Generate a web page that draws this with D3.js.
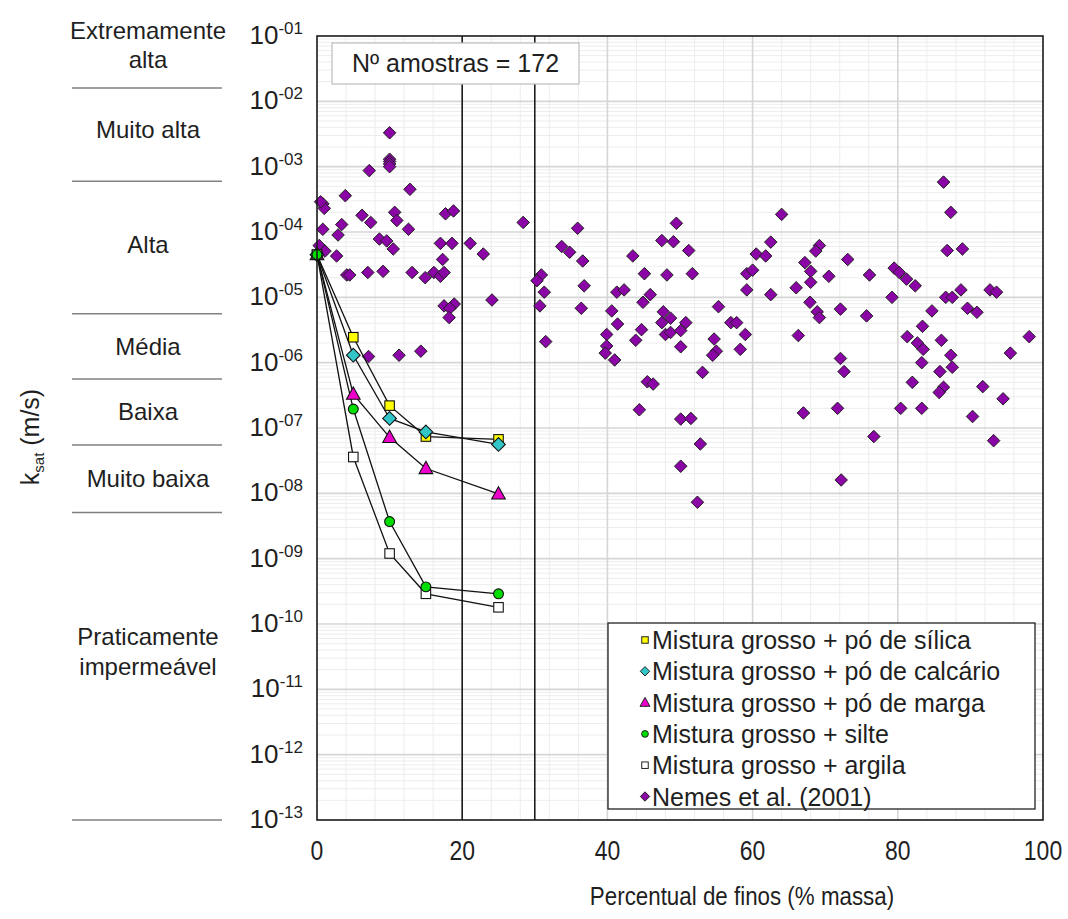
<!DOCTYPE html>
<html>
<head>
<meta charset="utf-8">
<script src="https://cdn.jsdelivr.net/npm/d3@7"></script>
<style>
  body { margin: 0; background: #fff; }
  svg { display: block; }
  text { font-family: "Liberation Sans", Arial, Helvetica, sans-serif; fill: #1f1f1f; }
</style>
</head>
<body>
<svg id="chart" width="1068" height="919"></svg>
<script>
// ---- data -------------------------------------------------------------
// fines content (% mass) of the laboratory mixtures
const fines = [0, 5, 10, 15, 25];

// saturated hydraulic conductivity (m/s) of each mixture series
const silica   = [4.5e-5, 2.45e-6, 2.2e-7, 7.4e-8, 6.7e-8];
const calcario = [4.5e-5, 1.3e-6, 1.4e-7, 8.7e-8, 5.6e-8];
const marga    = [4.5e-5, 3.3e-7, 7.2e-8, 2.4e-8, 9.8e-9];
const silte    = [4.5e-5, 1.95e-7, 3.7e-9, 3.7e-10, 2.9e-10];
const argila   = [4.5e-5, 3.6e-8, 1.2e-9, 2.9e-10, 1.8e-10];

const seriesNames = [
  "Mistura grosso + pó de sílica",
  "Mistura grosso + pó de calcário",
  "Mistura grosso + pó de marga",
  "Mistura grosso + silte",
  "Mistura grosso + argila",
  "Nemes et al. (2001)"
];

// Nemes et al. (2001) database: fines (%) and ksat (m/s)
const nemesFines = [
  10.0, 10.0, 10.0, 10.0, 10.0, 7.2, 12.8, 0.8, 1.0, 0.5, 3.9, 6.2, 7.4, 10.7, 11.0, 12.6,
  0.8, 3.4, 2.9, 0.3, 1.1, 2.7, 8.6, 9.6, 10.5, 4.1, 4.5, 7.0, 9.1, 13.1, 14.9, 16.1,
  17.0, 17.5, 17.0, 18.6, 17.3, 17.7, 18.8, 21.1, 22.9, 28.4, 17.5, 18.9, 18.3, 18.2,
  24.1, 30.9, 30.3, 31.3, 30.7, 7.1, 11.3, 14.3, 31.5,
  35.9, 33.7, 34.8, 36.6, 36.8, 36.4, 43.5, 45.1, 48.2, 47.5, 49.1, 49.5, 51.2, 51.7,
  41.3, 42.3, 45.9, 44.9, 40.6, 41.4, 39.9, 39.9, 39.7, 41.0, 44.7, 43.9, 47.7, 48.7,
  47.5, 48.0, 48.7, 50.1, 50.8, 50.1, 55.3, 57.0, 57.8, 54.7, 55.0, 54.5, 58.3, 59.0,
  59.2, 59.2, 60.0, 60.5, 61.8, 62.5, 64.0, 62.5, 66.0, 66.3, 53.1, 45.5, 46.3, 44.4,
  50.1, 51.5, 52.8, 50.1, 52.4,
  86.3, 87.3, 69.2, 68.7, 73.1, 67.2, 68.0, 68.0, 70.5, 76.1, 79.5, 80.2, 81.2, 82.4,
  79.2, 86.8, 88.9, 86.6, 87.5, 88.7, 92.7, 93.6, 84.7, 89.6, 90.9, 72.1, 75.7, 68.9,
  69.2, 67.9, 72.1, 72.6, 67.0, 71.7, 76.7, 72.2, 80.4, 83.3, 81.3, 82.7, 83.5, 83.4,
  86.0, 87.3, 87.5, 83.3, 85.8, 82.0, 86.3, 85.7, 91.7, 94.5, 90.3, 93.2, 95.5, 98.1
];
const nemesKsat = [
  3.3e-3, 1.3e-3, 1.2e-3, 1.1e-3, 1.0e-3, 8.7e-4, 4.5e-4, 2.7e-4, 2.3e-4, 2.9e-4, 3.6e-4, 1.8e-4, 1.4e-4, 2.0e-4, 1.5e-4, 1.1e-4,
  1.1e-4, 1.3e-4, 9.0e-5, 6.2e-5, 5.1e-5, 4.3e-5, 7.8e-5, 7.3e-5, 5.5e-5, 2.2e-5, 2.2e-5, 2.4e-5, 2.5e-5, 2.4e-5, 2.0e-5, 2.4e-5,
  2.1e-5, 2.4e-5, 6.7e-5, 6.7e-5, 3.8e-5, 1.9e-4, 2.1e-4, 6.7e-5, 4.6e-5, 1.4e-4, 7.4e-6, 7.9e-6, 6.8e-6, 4.9e-6,
  9.1e-6, 2.2e-5, 1.8e-5, 1.2e-5, 7.4e-6, 1.24e-6, 1.3e-6, 1.5e-6, 2.1e-6,
  1.14e-4, 6.0e-5, 4.9e-5, 3.6e-5, 1.5e-5, 6.8e-6, 4.3e-5, 2.3e-5, 2.2e-5, 7.4e-5, 7.1e-5, 1.36e-4, 5.2e-5, 2.3e-5,
  1.2e-5, 1.3e-5, 1.1e-5, 8.4e-6, 6.2e-6, 3.9e-6, 2.7e-6, 1.8e-6, 1.4e-6, 1.1e-6, 3.2e-6, 2.2e-6, 6.0e-6, 4.8e-6,
  4.1e-6, 2.7e-6, 2.9e-6, 3.1e-6, 4.1e-6, 1.75e-6, 7.2e-6, 4.1e-6, 4.1e-6, 2.3e-6, 1.5e-6, 1.3e-6, 1.6e-6, 2.7e-6,
  1.3e-5, 2.3e-5, 2.6e-5, 4.6e-5, 4.3e-5, 7.0e-5, 1.86e-4, 1.1e-5, 1.4e-5, 2.6e-6, 7.1e-7, 5.1e-7, 4.7e-7, 1.9e-7,
  1.37e-7, 1.4e-7, 5.7e-8, 2.6e-8, 7.3e-9,
  5.8e-4, 2.0e-4, 6.2e-5, 5.1e-5, 3.8e-5, 3.4e-5, 2.5e-5, 1.7e-5, 2.1e-5, 2.2e-5, 2.8e-5, 2.4e-5, 1.9e-5, 1.5e-5,
  1.0e-5, 5.2e-5, 5.5e-5, 1.0e-5, 1.0e-5, 1.3e-5, 1.3e-5, 1.2e-5, 6.2e-6, 6.8e-6, 5.9e-6, 6.6e-6, 5.2e-6, 6.0e-6,
  4.9e-6, 8.4e-6, 1.16e-6, 7.3e-7, 1.7e-7, 2.0e-7, 7.4e-8, 1.6e-8, 2.0e-7, 2.0e-7, 2.5e-6, 2.0e-6, 1.6e-6, 3.6e-6,
  2.2e-6, 1.3e-6, 8.5e-7, 1.0e-6, 7.3e-7, 5.0e-7, 4.2e-7, 3.5e-7, 4.3e-7, 2.8e-7, 1.5e-7, 6.4e-8, 1.4e-6, 2.5e-6
];

// permeability classes and their boundaries (m/s)
const classNames = [
  ["Extremamente", "alta"], ["Muito alta"], ["Alta"], ["Média"],
  ["Baixa"], ["Muito baixa"], ["Praticamente", "impermeável"]
];
const classBounds = [1.6e-2, 6.0e-4, 5.6e-6, 5.6e-7, 5.5e-8, 5.1e-9, 1e-13];

const xTicks = [0, 20, 40, 60, 80, 100];
const yExponents = [-1, -2, -3, -4, -5, -6, -7, -8, -9, -10, -11, -12, -13];
const fineLimits = [20, 30];
const sampleCount = 172;

// ---- layout -----------------------------------------------------------
const svg = d3.select("#chart");
const plot = { left: 317, right: 1043, top: 36, bottom: 820 };

const x = d3.scaleLinear().domain([0, 100]).range([plot.left, plot.right]);
const y = d3.scaleLog().domain([1e-13, 1e-1]).range([plot.bottom, plot.top]);

// ---- grid -------------------------------------------------------------
const grid = svg.append("g");
const minorX = d3.range(0, 101, 4).filter(v => v % 20 !== 0);
grid.selectAll(".gx-minor").data(minorX).join("line")
  .attr("x1", d => x(d)).attr("x2", d => x(d))
  .attr("y1", plot.top).attr("y2", plot.bottom)
  .attr("stroke", "#ededed").attr("stroke-width", 1);

const minorY = [];
yExponents.slice(1).forEach(e => {
  for (let m = 2; m <= 9; m++) minorY.push(m * Math.pow(10, e));
});
grid.selectAll(".gy-minor").data(minorY).join("line")
  .attr("x1", plot.left).attr("x2", plot.right)
  .attr("y1", d => y(d)).attr("y2", d => y(d))
  .attr("stroke", "#ededed").attr("stroke-width", 1);

grid.selectAll(".gx-major").data(xTicks.slice(1, -1)).join("line")
  .attr("x1", d => x(d)).attr("x2", d => x(d))
  .attr("y1", plot.top).attr("y2", plot.bottom)
  .attr("stroke", "#d6d6d6").attr("stroke-width", 1.6);

grid.selectAll(".gy-major").data(yExponents.slice(1, -1)).join("line")
  .attr("x1", plot.left).attr("x2", plot.right)
  .attr("y1", d => y(Math.pow(10, d))).attr("y2", d => y(Math.pow(10, d)))
  .attr("stroke", "#d6d6d6").attr("stroke-width", 1.6);

// fines limits at 20 % and 30 %
svg.append("g").selectAll("line").data(fineLimits).join("line")
  .attr("x1", d => x(d)).attr("x2", d => x(d))
  .attr("y1", plot.top).attr("y2", plot.bottom)
  .attr("stroke", "#111").attr("stroke-width", 1.5);

// ---- permeability classes on the left -----------------------------------
const classG = svg.append("g");
classG.selectAll("line").data(classBounds).join("line")
  .attr("x1", 72).attr("x2", 222)
  .attr("y1", d => y(d)).attr("y2", d => y(d))
  .attr("stroke", "#808080").attr("stroke-width", 1.5);

const classBaselines = [[39, 68], [138], [253], [355], [420], [487], [645, 675]];
classNames.forEach((lines, i) => {
  lines.forEach((txt, j) => {
    classG.append("text")
      .attr("x", 148).attr("y", classBaselines[i][j])
      .attr("text-anchor", "middle")
      .attr("font-size", 24)
      .text(txt);
  });
});

// ---- markers ----------------------------------------------------------
function drawMarker(g, type, size) {
  const s = size;
  if (type === "square") {
    return g.append("rect").attr("x", -s / 2).attr("y", -s / 2).attr("width", s).attr("height", s);
  }
  if (type === "diamond") {
    const h = s * 0.72;
    return g.append("path").attr("d", `M0,${-h}L${h},0L0,${h}L${-h},0Z`);
  }
  if (type === "triangle") {
    const h = s * 0.62;
    return g.append("path").attr("d", `M0,${-h * 1.05}L${h},${h * 0.75}L${-h},${h * 0.75}Z`);
  }
  return g.append("circle").attr("r", s * 0.52);
}

const mixSeries = [
  { name: seriesNames[0], values: silica,   type: "square",   fill: "#ffff00" },
  { name: seriesNames[1], values: calcario, type: "diamond",  fill: "#33c6c6" },
  { name: seriesNames[2], values: marga,    type: "triangle", fill: "#ee00cc" },
  { name: seriesNames[3], values: silte,    type: "circle",   fill: "#00dd00" },
  { name: seriesNames[4], values: argila,   type: "square",   fill: "#ffffff" }
];
const nemesStyle = { type: "diamond", fill: "#8a04a6" };

// Nemes et al. points
const nemesG = svg.append("g");
nemesFines.forEach((f, i) => {
  const g = nemesG.append("g").attr("transform", `translate(${x(f)},${y(nemesKsat[i])})`);
  drawMarker(g, nemesStyle.type, 8.7)
    .attr("fill", nemesStyle.fill).attr("stroke", "#222").attr("stroke-width", 1);
});

// mixture curves
const line = d3.line().x((d, i) => x(fines[i])).y(d => y(d));
const curveG = svg.append("g");
mixSeries.forEach(s => {
  curveG.append("path").attr("d", line(s.values))
    .attr("fill", "none").attr("stroke", "#111").attr("stroke-width", 1.3);
});
// markers drawn so the silt circle ends on top at the common origin
[0, 1, 2, 4, 3].forEach(k => {
  const s = mixSeries[k];
  s.values.forEach((v, i) => {
    const g = curveG.append("g").attr("transform", `translate(${x(fines[i])},${y(v)})`);
    drawMarker(g, s.type, s.type === "triangle" ? 11 : 9.5)
      .attr("fill", s.fill).attr("stroke", "#111").attr("stroke-width", 1.1);
  });
});

// ---- sample count box -------------------------------------------------
svg.append("rect")
  .attr("x", 332).attr("y", 43).attr("width", 247).attr("height", 41)
  .attr("fill", "#fff").attr("stroke", "#bdbdbd").attr("stroke-width", 1.2);
svg.append("text")
  .attr("x", 455.5).attr("y", 72).attr("text-anchor", "middle")
  .attr("font-size", 25)
  .text(`Nº amostras = ${sampleCount}`);

// ---- legend -----------------------------------------------------------
const legendItems = mixSeries.concat([{ name: seriesNames[5], type: nemesStyle.type, fill: nemesStyle.fill }]);
const leg = svg.append("g");
leg.append("rect")
  .attr("x", 608).attr("y", 623).attr("width", 427).attr("height", 186)
  .attr("fill", "#fff").attr("stroke", "#222").attr("stroke-width", 1.3);
legendItems.forEach((it, i) => {
  const cy = 640 + i * 31.3;
  const g = leg.append("g").attr("transform", `translate(645,${cy})`);
  drawMarker(g, it.type, it.type === "triangle" ? 8 : 6.5)
    .attr("fill", it.fill).attr("stroke", "#222").attr("stroke-width", 1);
  leg.append("text").attr("x", 652).attr("y", cy + 9)
    .attr("font-size", 25).text(it.name);
});

// ---- frame and axes ---------------------------------------------------
svg.append("rect")
  .attr("x", plot.left).attr("y", plot.top)
  .attr("width", plot.right - plot.left).attr("height", plot.bottom - plot.top)
  .attr("fill", "none").attr("stroke", "#1a1a1a").attr("stroke-width", 1.6);

const yLab = svg.append("g");
yExponents.forEach(e => {
  const t = yLab.append("text")
    .attr("x", 303).attr("y", y(Math.pow(10, e)) + 8)
    .attr("text-anchor", "end");
  t.append("tspan").attr("font-size", 26).text("10");
  const ex = e > -10 ? "-0" + (-e) : String(e);
  t.append("tspan").attr("font-size", 17).attr("dy", -10).text(ex);
});

// x tick labels in a condensed face
svg.append("g").selectAll("text").data(xTicks).join("text")
  .attr("transform", d => `translate(${x(d)},860) scale(0.82,1)`)
  .attr("text-anchor", "middle").attr("font-size", 28)
  .text(d => d);

svg.append("text")
  .attr("transform", "translate(742,905) scale(0.86,1)")
  .attr("text-anchor", "middle")
  .attr("font-size", 26)
  .text("Percentual de finos (% massa)");

const yt = svg.append("text")
  .attr("transform", "translate(39,437) rotate(-90)")
  .attr("text-anchor", "middle").attr("font-size", 25);
yt.append("tspan").text("k");
yt.append("tspan").attr("font-size", 15).attr("dy", 5).text("sat");
yt.append("tspan").attr("dy", -5).text(" (m/s)");
</script>
</body>
</html>
